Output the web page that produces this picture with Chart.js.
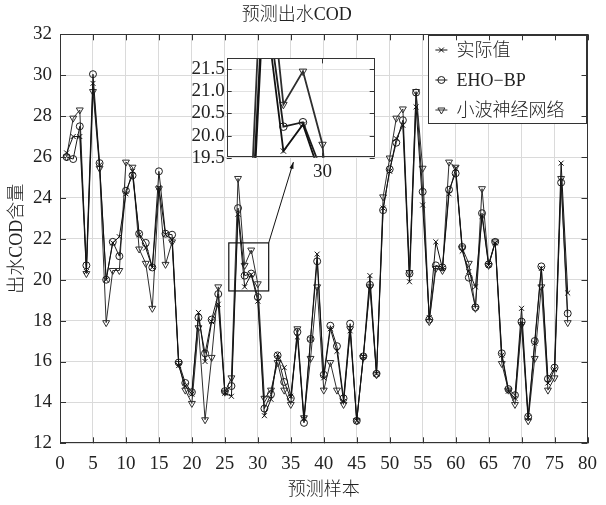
<!DOCTYPE html>
<html lang="zh">
<head>
  <meta charset="UTF-8">
  <title>预测出水COD</title>
  <script src="https://cdn.jsdelivr.net/npm/chart.js"></script>
  <style>
    html, body { margin: 0; padding: 0; background: #fff; }
    #wrap { position: relative; width: 606px; height: 505px; }
    #main { position: absolute; left: 0; top: 0; }
    #inset { position: absolute; left: 180px; top: 45px; }
  </style>
</head>
<body>
<div id="wrap">
  <canvas id="main" width="606" height="505"></canvas>
  <canvas id="inset" width="200" height="140"></canvas>
</div>

<script>
  // sample index on the x axis
  const samples = [1, 2, 3, 4, 5, 6, 7, 8, 9, 10, 11, 12, 13, 14, 15, 16, 17, 18, 19, 20,
    21, 22, 23, 24, 25, 26, 27, 28, 29, 30, 31, 32, 33, 34, 35, 36, 37, 38, 39, 40,
    41, 42, 43, 44, 45, 46, 47, 48, 49, 50, 51, 52, 53, 54, 55, 56, 57, 58, 59, 60,
    61, 62, 63, 64, 65, 66, 67, 68, 69, 70, 71, 72, 73, 74, 75, 76, 77];

  // 实际值
  const actual = [26.2, 27.0, 27.0, 20.4, 29.6, 25.6, 20.0, 21.8, 22.1, 24.2,
    25.3, 22.2, 21.55, 20.6, 24.5, 22.2, 21.95, 15.8, 14.8, 14.4,
    18.4, 16.0, 17.95, 18.8, 14.45, 14.3, 23.2, 19.65, 20.25, 18.95,
    13.35, 14.15, 16.35, 15.7, 14.3, 17.2, 13.2, 17.1, 21.25, 15.2,
    17.6, 16.5, 14.05, 17.5, 13.1, 16.25, 20.2, 15.4, 23.5, 25.3,
    26.9, 27.55, 19.9, 28.45, 23.65, 18.15, 21.85, 20.55, 24.2, 25.45,
    21.4, 20.4, 19.65, 23.1, 20.7, 21.8, 16.3, 14.55, 14.2, 18.6,
    13.25, 16.9, 20.55, 14.95, 15.6, 25.7, 19.35];

  // EHO-BP
  const ehoBp = [26.0, 25.9, 27.5, 20.7, 30.05, 25.7, 20.0, 21.85, 21.15, 24.35,
    25.1, 22.25, 21.8, 20.6, 25.3, 22.25, 22.2, 15.95, 14.95, 14.5,
    18.15, 16.4, 18.05, 19.3, 14.55, 14.8, 23.5, 20.2, 20.3, 19.15,
    13.7, 14.4, 16.3, 15.0, 14.2, 17.45, 13.0, 17.1, 20.9, 15.35,
    17.75, 16.75, 14.2, 17.85, 13.1, 16.25, 19.75, 15.4, 23.4, 25.4,
    26.7, 27.8, 20.3, 29.15, 24.3, 18.05, 20.7, 20.6, 24.4, 25.2,
    21.6, 20.1, 18.65, 23.25, 20.75, 21.85, 16.4, 14.65, 14.35, 17.95,
    13.3, 17.0, 20.65, 15.15, 15.7, 24.75, 18.35];

  // 小波神经网络
  const wavelet = [26.0, 27.9, 28.3, 20.3, 29.2, 25.45, 17.9, 20.45, 20.45, 25.75,
    25.5, 21.5, 20.8, 18.6, 24.45, 20.75, 21.85, 15.9, 14.6, 13.95,
    17.65, 13.15, 16.2, 19.65, 14.5, 15.2, 24.95, 20.7, 21.45, 19.8,
    14.2, 14.6, 15.95, 14.6, 13.9, 17.6, 13.25, 16.15, 19.65, 14.6,
    15.95, 14.6, 13.9, 17.6, 13.1, 16.2, 19.65, 15.35, 24.05, 25.95,
    27.9, 28.35, 20.35, 29.2, 25.45, 17.95, 20.55, 20.45, 25.75, 25.5,
    21.55, 20.8, 18.6, 24.45, 20.7, 21.85, 15.9, 14.6, 13.9, 17.8,
    13.1, 16.15, 19.65, 14.6, 15.2, 24.95, 17.9];

  const seriesNames = ['实际值', 'EHO\u2212BP', '小波神经网络'];

  // tick labels
  const xTicks = [0, 5, 10, 15, 20, 25, 30, 35, 40, 45, 50, 55, 60, 65, 70, 75, 80];
  const yTicks = [12, 14, 16, 18, 20, 22, 24, 26, 28, 30, 32];
  const insetXTicks = [30];
  const insetYTicks = [19.5, 20, 20.5, 21, 21.5];

  const fontFamily = '"Liberation Serif", "Noto Sans CJK SC", serif';
  Chart.defaults.font.family = fontFamily;
  Chart.defaults.color = '#222';

  const lineColors = ['#111', '#1c1c1c', '#2e2e2e'];

  function makeDatasets(lineWidth, radius) {
    return [
      {
        label: seriesNames[0], data: actual,
        borderColor: lineColors[0], borderWidth: lineWidth,
        pointStyle: 'crossRot', pointRadius: radius, pointBorderWidth: 1,
        pointBorderColor: lineColors[0], pointBackgroundColor: 'rgba(0,0,0,0)'
      },
      {
        label: seriesNames[1], data: ehoBp,
        borderColor: lineColors[1], borderWidth: lineWidth,
        pointStyle: 'circle', pointRadius: radius, pointBorderWidth: 1,
        pointBorderColor: lineColors[1], pointBackgroundColor: 'rgba(0,0,0,0)'
      },
      {
        label: seriesNames[2], data: wavelet,
        borderColor: lineColors[2], borderWidth: lineWidth,
        pointStyle: 'triangle', pointRotation: 180, pointRadius: radius + 0.5, pointBorderWidth: 1,
        pointBorderColor: lineColors[2], pointBackgroundColor: 'rgba(0,0,0,0)'
      }
    ];
  }

  // box round the plot area plus inward tick marks on all four sides
  const framePlugin = {
    id: 'frame',
    afterDraw(chart, args, opts) {
      const { ctx, chartArea: a, scales: { x, y } } = chart;
      const t = opts.tick;
      ctx.save();
      ctx.strokeStyle = '#333';
      ctx.lineWidth = 1;
      ctx.beginPath();
      x.ticks.forEach(tk => {
        const px = Math.round(x.getPixelForValue(tk.value)) + 0.5;
        ctx.moveTo(px, a.bottom); ctx.lineTo(px, a.bottom - t);
        ctx.moveTo(px, a.top); ctx.lineTo(px, a.top + t);
      });
      y.ticks.forEach(tk => {
        const py = Math.round(y.getPixelForValue(tk.value)) + 0.5;
        ctx.moveTo(a.left, py); ctx.lineTo(a.left + t, py);
        ctx.moveTo(a.right, py); ctx.lineTo(a.right - t, py);
      });
      ctx.stroke();
      ctx.strokeRect(Math.round(a.left) + 0.5, Math.round(a.top) + 0.5,
        Math.round(a.width) - 1, Math.round(a.height) - 1);
      ctx.restore();
    }
  };

  // white fill under the inset plot
  const whiteArea = {
    id: 'whiteArea',
    beforeDraw(chart) {
      const { ctx, chartArea: a } = chart;
      ctx.save();
      ctx.fillStyle = '#fff';
      ctx.fillRect(a.left, a.top, a.width, a.height);
      ctx.restore();
    }
  };

  // rectangle marking the zoomed region and the arrow to the inset
  const zoomMark = {
    id: 'zoomMark',
    afterDatasetsDraw(chart, args, o) {
      const { ctx, scales: { x, y } } = chart;
      const x0 = x.getPixelForValue(o.x0), x1 = x.getPixelForValue(o.x1);
      const y0 = y.getPixelForValue(o.y0), y1 = y.getPixelForValue(o.y1);
      const tx = x.getPixelForValue(o.arrowX), ty = y.getPixelForValue(o.arrowY);
      ctx.save();
      ctx.strokeStyle = '#111';
      ctx.lineWidth = 1.2;
      ctx.strokeRect(x0, y1, x1 - x0, y0 - y1);
      ctx.beginPath();
      ctx.moveTo(x1, y1);
      ctx.lineTo(tx, ty);
      ctx.lineWidth = 1;
      ctx.stroke();
      const ang = Math.atan2(ty - y1, tx - x1);
      ctx.fillStyle = '#111';
      ctx.beginPath();
      ctx.moveTo(tx, ty);
      ctx.lineTo(tx - 7 * Math.cos(ang - 0.3), ty - 7 * Math.sin(ang - 0.3));
      ctx.lineTo(tx - 7 * Math.cos(ang + 0.3), ty - 7 * Math.sin(ang + 0.3));
      ctx.closePath();
      ctx.fill();
      ctx.restore();
    }
  };

  // legend box in the top right corner of the plot
  const boxLegend = {
    id: 'boxLegend',
    afterDraw(chart, args, o) {
      const { ctx, chartArea: a } = chart;
      const left = Math.round(a.right - o.right - o.width);
      const top = Math.round(a.top + o.top);
      ctx.save();
      ctx.fillStyle = '#fff';
      ctx.fillRect(left, top, o.width, o.height);
      ctx.strokeStyle = '#333';
      ctx.lineWidth = 1;
      ctx.strokeRect(left + 0.5, top + 0.5, o.width, o.height);
      chart.data.datasets.forEach((ds, i) => {
        const cy = top + o.rowTop + i * o.rowGap;
        const cx = left + o.markerX;
        ctx.strokeStyle = ds.borderColor;
        ctx.lineWidth = 1;
        ctx.beginPath();
        ctx.moveTo(cx - 6, cy); ctx.lineTo(cx + 6, cy);
        ctx.stroke();
        ctx.fillStyle = 'rgba(0,0,0,0)';
        Chart.helpers.drawPoint(ctx, {
          pointStyle: ds.pointStyle, rotation: ds.pointRotation || 0,
          radius: ds.pointRadius, borderWidth: 1
        }, cx, cy);
        ctx.fillStyle = '#222';
        ctx.font = '300 18px ' + fontFamily;
        ctx.textBaseline = 'middle';
        ctx.textAlign = 'left';
        ctx.fillText(ds.label, left + o.textX, cy + 1);
      });
      ctx.restore();
    }
  };

  // main chart
  new Chart(document.getElementById('main'), {
    type: 'line',
    data: { labels: samples, datasets: makeDatasets(1, 3.5) },
    options: {
      responsive: false,
      animation: false,
      layout: { padding: { right: 12.7 } },
      plugins: {
        legend: { display: false },
        tooltip: { enabled: false },
        title: {
          display: true, text: '预测出水COD', color: '#222',
          font: { size: 18, weight: 300 },
          padding: { top: 4, bottom: 8.7 }
        },
        frame: { tick: 6 },
        zoomMark: { x0: 25.6, x1: 31.65, y0: 19.45, y1: 21.8, arrowX: 35.4, arrowY: 25.75 },
        boxLegend: { width: 158, height: 88, right: 1.6, top: 0.7, rowTop: 15, rowGap: 30, markerX: 13.4, textX: 28.5 }
      },
      scales: {
        x: {
          type: 'linear', min: 0, max: 80,
          afterBuildTicks: s => { s.ticks = xTicks.map(v => ({ value: v })); },
          afterFit: s => { s.height = 61.7; },
          grid: { color: '#dadada', drawTicks: false },
          border: { display: false },
          ticks: { padding: 9, autoSkip: false, maxRotation: 0, font: { size: 19 }, color: '#222' },
          title: { display: true, text: '预测样本', font: { size: 18, weight: 300 }, color: '#222', padding: { top: 0, bottom: 4.2 } }
        },
        y: {
          min: 12, max: 32,
          afterBuildTicks: s => { s.ticks = yTicks.map(v => ({ value: v })); },
          afterFit: s => { s.width = 60; },
          grid: { color: '#dadada', drawTicks: false },
          border: { display: false },
          ticks: { padding: 8, autoSkip: false, font: { size: 19 }, color: '#222' },
          title: { display: true, text: '出水COD含量', font: { size: 18, weight: 300 }, color: '#222', padding: { top: 6.2, bottom: 0 } }
        }
      }
    },
    plugins: [zoomMark, boxLegend, framePlugin]
  });

  // magnified inset
  new Chart(document.getElementById('inset'), {
    type: 'line',
    data: { labels: samples, datasets: makeDatasets(1.8, 3.8) },
    options: {
      responsive: false,
      animation: false,
      layout: { padding: { top: 5.7, right: 5 } },
      plugins: {
        legend: { display: false },
        tooltip: { enabled: false },
        frame: { tick: 5 }
      },
      scales: {
        x: {
          type: 'linear', min: 25.1, max: 32.67,
          afterBuildTicks: s => { s.ticks = insetXTicks.map(v => ({ value: v })); },
          afterFit: s => { s.height = 27.3; },
          grid: { color: '#e2e2e2', drawTicks: false },
          border: { display: false },
          ticks: { padding: 3, autoSkip: false, maxRotation: 0, font: { size: 19 }, color: '#222' }
        },
        y: {
          min: 19.5, max: 21.74,
          afterBuildTicks: s => { s.ticks = insetYTicks.map(v => ({ value: v })); },
          afterFit: s => { s.width = 46.7; },
          grid: { color: '#e2e2e2', drawTicks: false },
          border: { display: false },
          ticks: { padding: 2, autoSkip: false, font: { size: 19 }, color: '#222' }
        }
      }
    },
    plugins: [whiteArea, framePlugin]
  });
</script>
</body>
</html>
